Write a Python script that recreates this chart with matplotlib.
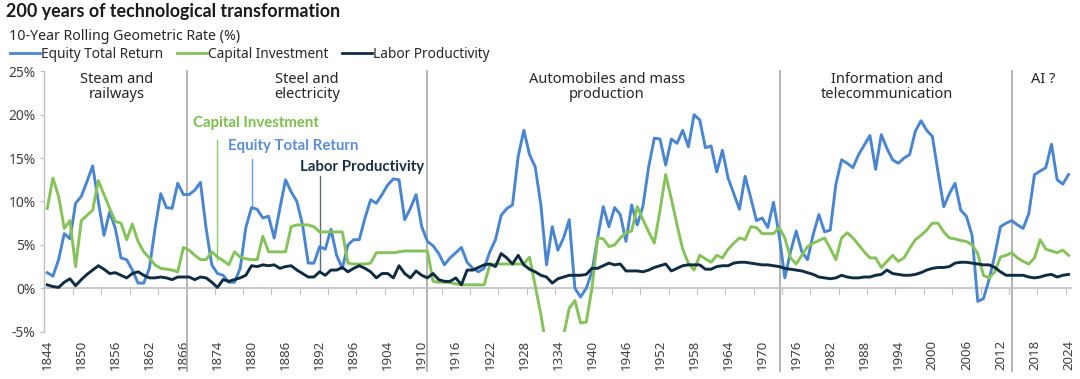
import matplotlib
matplotlib.use("Agg")
import matplotlib.pyplot as plt
from matplotlib.lines import Line2D

plt.rcParams['font.family'] = ['Noto Sans', 'DejaVu Sans']
BOLD = ['Lato', 'Open Sans', 'DejaVu Sans']

years = list(range(1844, 2025))

equity = [
    1.8, 1.4, 3.3, 6.3, 5.7, 9.8, 10.6, 12.3, 14.1, 10.0,      # 1844-1853
    6.1, 8.8, 6.9, 3.5, 3.3, 2.1, 0.6, 0.6, 2.3, 6.9,          # 1854-1863
    10.9, 9.3, 9.2, 12.1, 10.8, 10.8, 11.3, 12.2, 6.9, 2.7,    # 1864-1873
    1.7, 1.5, 0.7, 0.7, 2.3, 7.0, 9.3, 9.1, 8.1, 8.3,          # 1874-1883
    5.8, 9.2, 12.5, 11.1, 10.0, 7.3, 2.9, 2.9, 4.8, 4.5,       # 1884-1893
    6.8, 3.8, 2.3, 5.0, 5.6, 5.6, 8.1, 10.2, 9.8, 10.8,        # 1894-1903
    11.9, 12.6, 12.5, 7.9, 9.2, 10.8, 7.1, 5.4, 4.9, 4.0,      # 1904-1913
    2.7, 3.5, 4.1, 4.7, 3.0, 2.3, 1.9, 2.3, 4.2, 5.6,          # 1914-1923
    8.4, 9.2, 9.6, 15.2, 18.2, 15.4, 14.0, 9.6, 2.7, 7.1,      # 1924-1933
    4.4, 5.8, 7.9, 0.0, -1.0, 0.0, 1.9, 5.8, 9.4, 7.1,         # 1934-1943
    9.3, 8.5, 5.4, 9.6, 7.3, 9.5, 14.0, 17.3, 17.2, 14.2,      # 1944-1953
    17.2, 16.7, 18.2, 16.3, 20.0, 19.4, 16.2, 16.4, 13.4, 15.9,  # 1954-1963
    12.7, 10.9, 9.1, 12.9, 10.4, 7.8, 8.1, 7.0, 9.9, 6.1,      # 1964-1973
    1.2, 4.2, 6.6, 4.2, 3.3, 6.2, 8.5, 6.5, 6.7, 12.0,         # 1974-1983
    14.8, 14.4, 13.9, 15.4, 16.5, 17.6, 13.7, 17.7, 16.1, 14.8,  # 1984-1993
    14.4, 15.0, 15.4, 18.1, 19.3, 18.2, 17.5, 13.4, 9.4, 10.9,   # 1994-2003
    12.1, 9.0, 8.3, 6.1, -1.5, -1.2, 1.0, 3.8, 7.1, 7.5,       # 2004-2013
    7.8, 7.3, 6.9, 8.6, 13.1, 13.5, 13.9, 16.6, 12.5, 12.0,    # 2014-2023
    13.1,                                                       # 2024
]

capital = [
    9.2, 12.7, 10.6, 6.9, 7.8, 2.5, 7.8, 8.4, 9.0, 12.4,
    10.8, 9.2, 7.7, 7.5, 5.6, 7.4, 5.4, 4.2, 3.5, 2.7,
    2.3, 2.2, 2.1, 1.9, 4.7, 4.4, 3.8, 3.3, 3.3, 4.2,
    3.6, 3.2, 2.7, 4.2, 3.6, 3.4, 3.3, 3.3, 6.0, 4.2,
    4.2, 4.2, 4.2, 7.1, 7.3, 7.3, 7.3, 7.1, 6.5, 6.5,
    6.5, 6.5, 6.5, 2.9, 2.8, 2.8, 2.8, 2.9, 4.1, 4.1,
    4.1, 4.1, 4.2, 4.3, 4.3, 4.3, 4.3, 4.3, 0.8, 0.7,
    0.7, 0.65, 0.5, 0.4, 0.4, 0.4, 0.4, 0.4, 2.7, 2.8,
    2.8, 2.8, 2.8, 2.8, 2.8, 3.6, 0.3, -3.0, -7.0, -8.0,
    -7.0, -5.4, -2.3, -1.4, -4.0, -3.9, 0.0, 5.8, 5.7, 4.8,
    5.0, 5.8, 6.4, 6.6, 9.4, 7.9, 6.5, 5.2, 9.0, 13.1,
    10.3, 7.3, 4.5, 2.9, 2.1, 3.8, 3.4, 3.0, 3.8, 3.5,
    4.5, 5.2, 5.8, 5.6, 7.1, 7.0, 6.3, 6.3, 6.3, 7.0,
    5.8, 3.5, 2.8, 3.8, 4.8, 5.2, 5.5, 5.8, 4.6, 3.3,
    5.8, 6.4, 5.8, 5.0, 4.2, 3.5, 3.5, 2.4, 3.1, 3.8,
    3.1, 3.5, 4.6, 5.6, 6.1, 6.7, 7.5, 7.5, 6.5, 5.8,
    5.7, 5.5, 5.4, 5.0, 4.0, 1.5, 1.2, 1.9, 3.6, 3.8,
    4.1, 3.5, 3.1, 2.8, 3.5, 5.6, 4.5, 4.3, 4.1, 4.4,
    3.8,
]

labor = [
    0.4, 0.2, 0.1, 0.7, 1.1, 0.3, 1.0, 1.6, 2.1, 2.6,
    2.2, 1.7, 1.8, 1.5, 1.2, 1.7, 1.9, 1.5, 1.2, 1.2,
    1.3, 1.2, 1.0, 1.3, 1.3, 1.3, 1.0, 1.3, 1.2, 0.7,
    0.1, 1.0, 0.8, 1.0, 1.2, 1.5, 2.6, 2.5, 2.7, 2.6,
    2.7, 2.3, 2.5, 2.6, 2.1, 1.7, 1.3, 1.3, 1.9, 1.5,
    2.1, 2.1, 2.4, 1.9, 2.3, 2.6, 2.3, 1.9, 1.2, 1.7,
    1.7, 1.2, 2.6, 1.7, 1.2, 2.0, 1.5, 1.2, 1.7, 1.0,
    0.8, 0.8, 1.2, 0.4, 2.1, 2.1, 2.4, 2.7, 2.8, 2.5,
    4.0, 3.5, 2.8, 3.8, 2.7, 2.2, 1.9, 1.5, 1.3, 0.6,
    1.1, 1.3, 1.5, 1.5, 1.5, 1.6, 2.3, 2.3, 2.6, 2.9,
    2.7, 2.8, 2.0, 2.0, 2.0, 1.9, 2.1, 2.4, 2.6, 2.8,
    2.0, 2.3, 2.6, 2.7, 2.7, 2.7, 2.2, 2.2, 2.5, 2.6,
    2.6, 2.9, 3.0, 3.0, 2.9, 2.8, 2.7, 2.7, 2.6, 2.5,
    2.3, 2.2, 2.1, 2.0, 1.8, 1.6, 1.3, 1.2, 1.1, 1.2,
    1.5, 1.3, 1.2, 1.2, 1.3, 1.3, 1.5, 1.6, 2.1, 1.7,
    1.6, 1.5, 1.5, 1.6, 1.8, 2.1, 2.3, 2.4, 2.4, 2.5,
    2.9, 3.0, 3.0, 2.9, 2.8, 2.7, 2.7, 2.4, 1.9, 1.5,
    1.5, 1.5, 1.5, 1.3, 1.2, 1.3, 1.5, 1.6, 1.3, 1.5,
    1.6,
]

tick_years = list(range(1844, 2025, 6))
tick_labels = ["1844", "1850", "1856", "1862", "1866", "1874", "1880", "1886",
               "1892", "1896", "1904", "1910", "1916", "1922", "1928", "1334",
               "1940", "1946", "1952", "1958", "1964", "1970", "1976", "1982",
               "1988", "1994", "2000", "2006", "2012", "2018", "2024"]

era_dividers = [1868.6, 1911.0, 1973.1, 2014.1]
era_names = ["Steam and\nrailways", "Steel and\nelectricity",
             "Automobiles and mass\nproduction",
             "Information and\ntelecommunication", "AI ?"]
era_centers = [1856.3, 1889.8, 1942.6, 1992.0, 2019.5]

series_names = ["Equity Total Return", "Capital Investment", "Labor Productivity"]
c_blue = "#4A86CF"
c_green = "#85C25A"
c_navy = "#0E2D42"

fig = plt.figure(figsize=(10.8, 3.79), dpi=100)
ax = fig.add_axes([0.0406, 0.1248, 0.9514, 0.6871])

ax.plot(years, equity, color=c_blue, lw=2.1, zorder=3)
ax.plot(years, capital, color=c_green, lw=2.1, zorder=3)
ax.plot(years, labor, color=c_navy, lw=2.1, zorder=4)

ax.set_xlim(1843.4, 2024.5)
ax.set_ylim(-5, 25)

gray = "#BFBFBF"
for s in ["top", "right"]:
    ax.spines[s].set_visible(False)
ax.spines["left"].set_color(gray)
ax.spines["left"].set_linewidth(1.0)
ax.spines["bottom"].set_position(("data", 0))
ax.spines["bottom"].set_color(gray)
ax.spines["bottom"].set_linewidth(1.2)

ax.set_yticks([-5, 0, 5, 10, 15, 20, 25])
ax.set_yticklabels(["-5%", "0%", "5%", "10%", "15%", "20%", "25%"])
ax.tick_params(axis="y", direction="out", length=3, color=gray, labelsize=10,
               labelcolor="#404040", pad=3)

ax.set_xticks([y + 0.5 for y in range(1843, 2024, 5)])
ax.tick_params(axis="x", direction="out", length=4, color=gray, labelbottom=False)

sec = ax.secondary_xaxis(0.0)
sec.set_xticks(tick_years)
sec.set_xticklabels(tick_labels, rotation=90)
sec.tick_params(length=0, labelsize=9.5, labelcolor="#404040", pad=6)
sec.spines["bottom"].set_visible(False)

for xd in era_dividers:
    ax.plot([xd, xd], [1.0, -0.15], transform=ax.get_xaxis_transform(),
            color="#A6A6A6", lw=1.2, clip_on=False, zorder=1)

for name, xc in zip(era_names, era_centers):
    ax.text(xc, 24.9, name, ha="center", va="top", fontsize=10.5,
            color="#262626", linespacing=1.0)

# callouts
ax.text(1869.7, 19.0, "Capital Investment", color="#7DBD4E", fontsize=10.8,
        family=BOLD, fontweight="bold", va="center", ha="left")
ax.plot([1874, 1874], [3.3, 17.1], color="#8DC866", lw=1.0, zorder=2)
ax.text(1875.9, 16.4, "Equity Total Return", color="#5A8ED4", fontsize=10.8,
        family=BOLD, fontweight="bold", va="center", ha="left")
ax.plot([1880, 1880], [9.4, 14.9], color="#6F9DDB", lw=1.0, zorder=2)
ax.text(1888.6, 14.0, "Labor Productivity", color="#1B3042", fontsize=10.8,
        family=BOLD, fontweight="bold", va="center", ha="left")
ax.plot([1892, 1892], [2.1, 12.9], color="#5B6B78", lw=1.0, zorder=2)

fig.text(0.006, 1 - 11.5 / 379, "200 years of technological transformation",
         fontsize=12.9, family=BOLD, fontweight="bold", color="#1A1A1A",
         va="center", ha="left")
fig.text(0.008, 1 - 36 / 379, "10-Year Rolling Geometric Rate (%)",
         fontsize=10.2, color="#262626", va="center", ha="left")

handles = [Line2D([], [], color=c, lw=2.0) for c in (c_blue, c_green, c_navy)]
fig.legend(handles, series_names, loc="center left",
           bbox_to_anchor=(0.009, 1 - 54 / 379), ncol=3, frameon=False,
           fontsize=9.8, handlelength=2.2, handletextpad=0.1, columnspacing=1.0,
           borderpad=0, borderaxespad=0, labelcolor="#262626")

fig.savefig("out.png", dpi=100)
